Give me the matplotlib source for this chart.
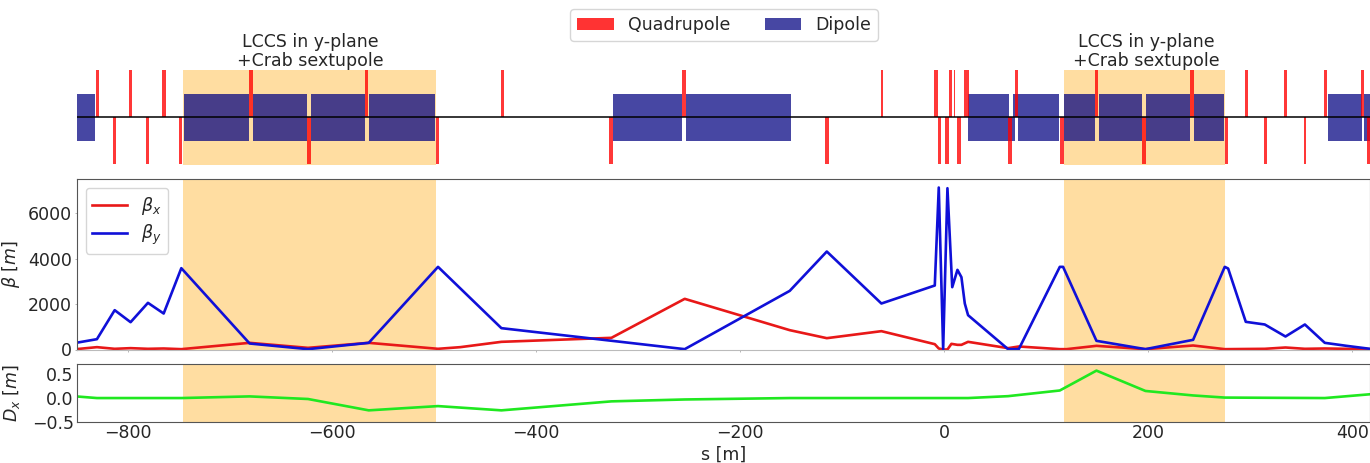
import matplotlib
matplotlib.use("Agg")
import matplotlib.pyplot as plt
from matplotlib.patches import Patch

# quadrupole centres [m] and widths, upper / lower side of the beamline
quad_up_s = [-829.6, -797, -764.3, -679, -565.7, -432.7, -255, -61, -7.8, 5.9, 10.5, 22, 71.2,
             149.3, 243, 296.3, 334.5, 373.3, 410]
quad_up_w = [2.8, 3.4, 3.4, 4.1, 3.4, 3.2, 3.4, 1.7, 3.4, 2.8, 0.7, 4.1, 3.4, 3.8, 3.8, 3.4, 2.8, 3.1, 2.1]
quad_dn_s = [-813, -780.6, -748, -622.5, -496.4, -326.3, -114.6, -4.5, 2.9, 14.7, 65, 115.3,
             195.7, 277, 315.2, 353.7, 416]
quad_dn_w = [2.8, 2.8, 3.4, 3.8, 3.4, 3.4, 3.4, 3.4, 3.8, 3.8, 3.8, 3.8, 3.8, 2.8, 3.1, 2.5, 3]

# dipole start / end [m], with the side they cover (-1 lower half, 1 upper half, 0 both)
dip_start = [-851, -745.1, -676.7, -619.9, -563, -324.6, -252.4, 23.5, 63.7, 67.6, 72.5, 117.6,
             151.6, 198.3, 244.7, 375.7, 411.6]
dip_end = [-831.6, -681, -624.5, -567.4, -499, -256.7, -150.2, 63.7, 69.3, 72.5, 112.4, 147.7,
           194, 240.8, 274.4, 409, 430]
dip_side = [0, 0, 0, 0, 0, 0, 0, 0, -1, 1, 0, 0, 0, 0, 0, 0, 0]

lccs_start = [-745.7, 117.3]
lccs_end = [-497.6, 275.7]
lccs_label = ["LCCS in y-plane\n+Crab sextupole", "LCCS in y-plane\n+Crab sextupole"]
lccs_label_s = [-620.6, 198.6]

bety_s = [-850.5, -830, -812.6, -797, -780, -764.6, -747.3, -680.4, -623.2, -563.7, -495.8, -433.7,
          -254.1, -151.2, -114.9, -61.4, -9.1, -5.2, -0.9, 3.3, 8, 13.1, 17, 20.3, 23.5, 62.7, 73.2,
          113.4, 116.6, 149.3, 197.3, 244, 275, 278.3, 295.6, 314.2, 334.5, 353.5, 373, 394.3, 417.2]
bety = [293, 454, 1729, 1201, 2051, 1582, 3575, 264, 15, 293, 3633, 938,
        15, 2578, 4307, 2022, 2813, 7120, 15, 7090, 2740, 3501, 3179, 2022, 1509, 15, 15,
        3633, 3633, 381, 15, 425, 3633, 3560, 1216, 1099, 571, 1099, 293, 161, 30]

betx_s = [-850.5, -830, -812.6, -797, -780, -764.6, -747.3, -680.4, -623.2, -563.7, -495.8, -474,
          -433.7, -325.9, -254.1, -151.2, -114.9, -61.4, -9.1, -5.2, -0.9, 3.3, 7.2, 13.1, 17,
          23.5, 62.7, 73.2, 113.4, 120, 149.3, 197.3, 244, 275, 314.2, 334.5, 353.5, 373, 417.2]
betx = [15, 103, 30, 59, 30, 44, 15, 293, 73, 293, 30, 103,
        337, 513, 2227, 850, 498, 806, 234, 44, 0, 0, 249, 205, 205,
        337, 59, 132, 15, 15, 161, 15, 176, 15, 30, 88, 30, 44, 15]

dx_s = [-850.5, -830, -747.3, -680.4, -623.2, -563.7, -495.8, -433.7, -325.9, -254.1, -151.2, 23.5,
        62.7, 113.4, 149.3, 197.3, 244, 275, 373, 417.2]
dx = [0.035, 0, 0, 0.035, -0.02, -0.26, -0.17, -0.26, -0.07, -0.03, 0, 0,
      0.04, 0.16, 0.58, 0.15, 0.055, 0.01, 0, 0.08]

W, H = 1370, 463
TXT = "#262626"
EDGE = "#555555"
plt.rcParams["font.size"] = 12
plt.rcParams["text.color"] = TXT
plt.rcParams["axes.labelcolor"] = TXT
plt.rcParams["xtick.color"] = TXT
plt.rcParams["ytick.color"] = TXT
plt.rcParams["mathtext.default"] = "it"


def px_axes(fig, left, top, right, bottom):
    return fig.add_axes([left / W, 1 - bottom / H, (right - left) / W, (bottom - top) / H])


fig = plt.figure(figsize=(W / 100, H / 100), dpi=100)
ax0 = px_axes(fig, 76.5, 70, 1370, 165)
ax1 = px_axes(fig, 76.5, 179, 1370, 349.5)
ax2 = px_axes(fig, 76.5, 364, 1370, 421.7)

xlim = (-850, 417.3)

# lattice strip
for a, b in zip(lccs_start, lccs_end):
    ax0.axvspan(a, b, color="orange", alpha=0.37, lw=0, zorder=0)
dip_bottom = [0 if side == 1 else -0.5 for side in dip_side]
dip_height = [1 if side == 0 else 0.5 for side in dip_side]
ax0.bar(dip_start, dip_height, width=[e - s for s, e in zip(dip_start, dip_end)], bottom=dip_bottom,
        align="edge", color="navy", alpha=0.72, lw=0, zorder=1)
ax0.bar(quad_up_s, [1] * len(quad_up_s), width=quad_up_w, bottom=0, color="red", alpha=0.78, lw=0, zorder=2)
ax0.bar(quad_dn_s, [-1] * len(quad_dn_s), width=quad_dn_w, bottom=0, color="red", alpha=0.78, lw=0, zorder=2)
ax0.axhline(0, color="black", lw=1.1, zorder=3)
ax0.set_xlim(xlim)
ax0.set_ylim(-1.02, 1.0)
ax0.axis("off")
for s, lab in zip(lccs_label_s, lccs_label):
    ax0.text(s, 1.0, lab, ha="center", va="bottom", fontsize=12.5, linespacing=1.1)
ax0.legend(handles=[Patch(facecolor="red", edgecolor="none", alpha=0.8, label="Quadrupole"),
                    Patch(facecolor="navy", edgecolor="none", alpha=0.72, label="Dipole")],
           ncol=2, fontsize=12.5, loc="center", bbox_to_anchor=(724 / W, 1 - 25 / H),
           bbox_transform=fig.transFigure, columnspacing=2.0, handlelength=2.1, handleheight=0.75,
           borderpad=0.4, frameon=True)

# beta functions
for a, b in zip(lccs_start, lccs_end):
    ax1.axvspan(a, b, color="orange", alpha=0.37, lw=0, zorder=0)
    ax2.axvspan(a, b, color="orange", alpha=0.37, lw=0, zorder=0)
ax1.plot(betx_s, betx, color="#e81818", lw=1.9, label=r"$\beta_x$")
ax1.plot(bety_s, bety, color="#1010d8", lw=1.9, label=r"$\beta_y$")
ax1.set_xlim(xlim)
ax1.set_ylim(0, 7495)
ax1.set_yticks([0, 2000, 4000, 6000])
ax1.set_ylabel(r"$\beta\ [m]$", fontsize=12.5)
ax1.yaxis.set_label_coords(-0.042, 0.5)
ax1.tick_params(labelbottom=False, labelsize=12.5, length=1.5, width=0.6, color="#aaaaaa", pad=2)
ax1.legend(loc="upper left", fontsize=12.5, bbox_to_anchor=(0.007, 0.949), borderaxespad=0, labelspacing=0.35)

# dispersion
ax2.plot(dx_s, dx, color="#20e820", lw=1.9)
ax2.set_xlim(xlim)
ax2.set_ylim(-0.5, 0.72)
ax2.set_yticks([-0.5, 0, 0.5])
ax2.set_ylabel(r"$D_x\ [m]$", fontsize=12.5)
ax2.yaxis.set_label_coords(-0.042, 0.5)
ax2.set_xlabel("s [m]", fontsize=12.5, labelpad=2.5)
ax2.tick_params(labelsize=12.5, length=0, pad=2)

for ax in (ax1, ax2):
    for sp in ax.spines.values():
        sp.set_color(EDGE)
ax1.spines["bottom"].set_color("#bbbbbb")

fig.savefig("out.png", dpi=100)
